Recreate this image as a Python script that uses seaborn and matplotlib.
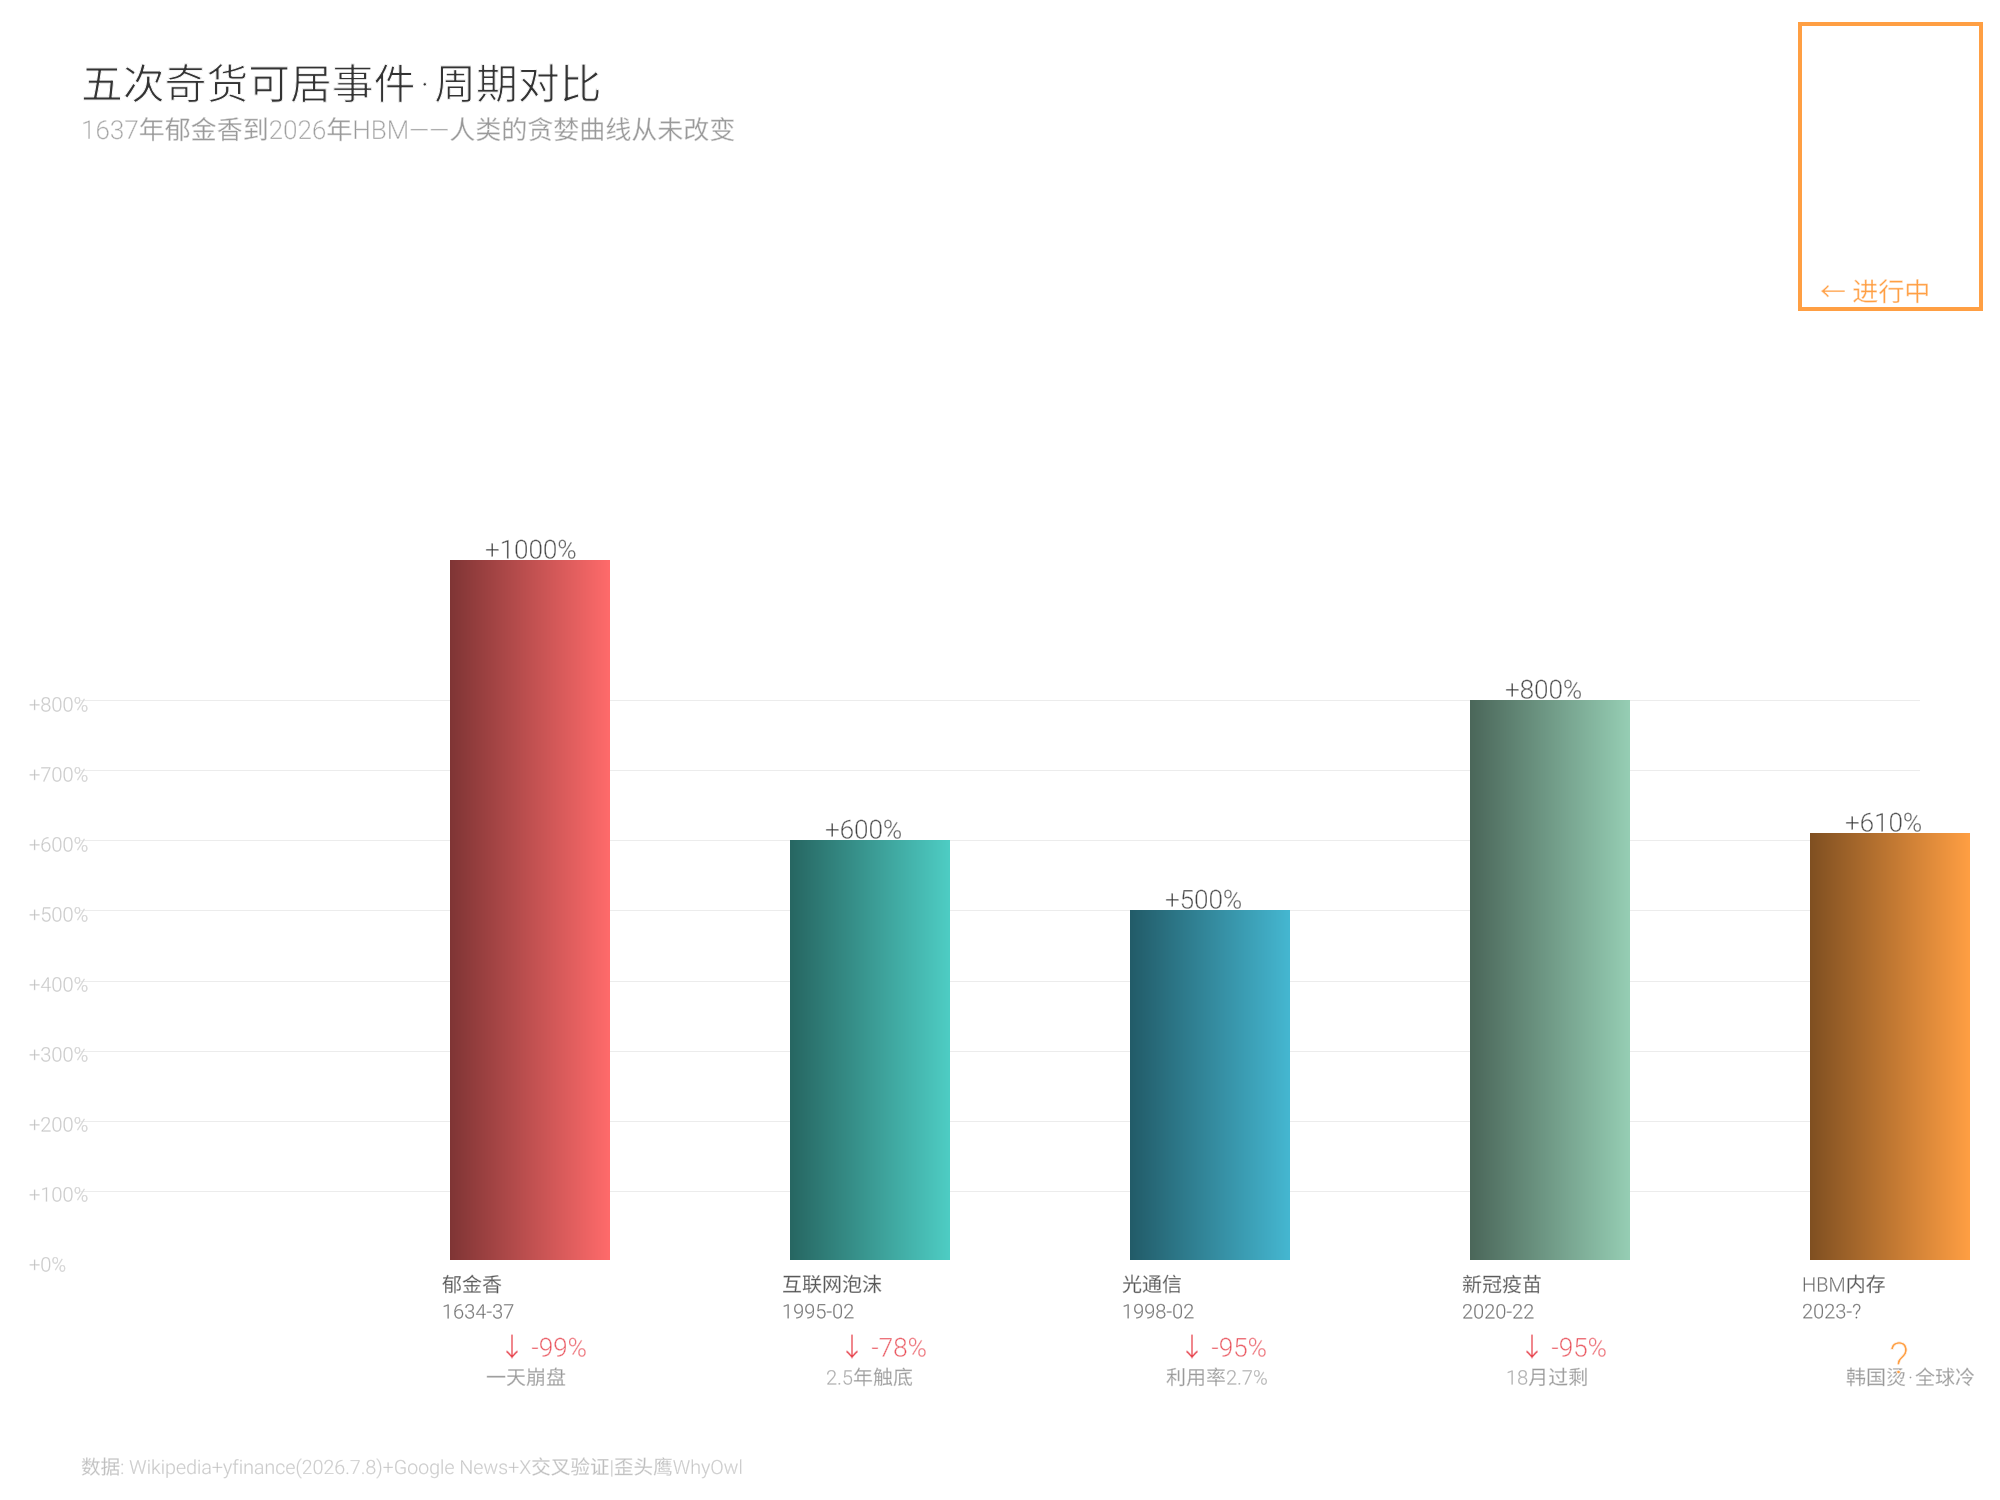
import numpy as np
import pandas as pd
import matplotlib
matplotlib.use("Agg")
import matplotlib.pyplot as plt
import matplotlib.patheffects as pe
import seaborn as sns
from matplotlib.colors import LinearSegmentedColormap
from matplotlib.patches import Rectangle
from matplotlib.transforms import ScaledTranslation

# datos
events = ["郁金香", "互联网泡沫", "光通信", "新冠疫苗", "HBM内存"]
years = ["1634-37", "1995-02", "1998-02", "2020-22", "2023-?"]
gains = [1000, 600, 500, 800, 610]
drops = ["↓ -99%", "↓ -78%", "↓ -95%", "↓ -95%", "?"]
notes = ["一天崩盘", "2.5年触底", "利用率2.7%", "18月过剩", "韩国烫\u200a·\u200a全球冷"]
colors = ["#FF6B6B", "#4ECDC4", "#45B7D1", "#96CEB4", "#FF9F43"]
y_ticks = [0, 100, 200, 300, 400, 500, 600, 700, 800]

sns.set_theme(style="white")
plt.rcParams["font.family"] = ["Roboto", "Noto Sans CJK SC", "DejaVu Sans"]
plt.rcParams["font.weight"] = 300

W, H = 2000, 1500
PT = 0.72  # px a puntos con dpi=100


def thin(size_px, k=0.018):
    # el CJK solo existe en Regular: se adelgaza con un trazo blanco encima
    return [pe.Normal(), pe.Stroke(linewidth=size_px * k * PT, foreground="white")]


fig = plt.figure(figsize=(W / 100, H / 100), dpi=100, facecolor="white")
ax = fig.add_axes([80 / W, (H - 1260.5) / H, 1840 / W, 700 / H])

df = pd.DataFrame({"event": events, "gain": gains})
sns.barplot(data=df, x="event", y="gain", width=160 / 340, color=colors[0], ax=ax)

ax.set_xlabel("")
ax.set_ylabel("")
sns.despine(ax=ax, left=True, bottom=True)

# barras con degradado (un poco hacia dentro: imshow redondea el recuadro hacia fuera)
inset_x, inset_y = 0.7 / 340, 0.9 / 0.7
for patch, c in zip(ax.patches, colors):
    x0, x1 = patch.get_x(), patch.get_x() + patch.get_width()
    top = patch.get_height()
    rgb = matplotlib.colors.to_rgb(c)
    cmap = LinearSegmentedColormap.from_list("g", [tuple(v * 0.5 for v in rgb), rgb])
    patch.set_facecolor("none")
    patch.set_edgecolor("none")
    ax.imshow(np.linspace(0, 1, 256).reshape(1, -1), extent=[x0, x1 - inset_x, 0, top - inset_y], cmap=cmap,
              aspect="auto", zorder=3, clip_on=False, interpolation="bilinear")
ax.set_xlim((80 - 530) / 340, (1920 - 530) / 340)
ax.set_ylim(0, 1000)

# rejilla y ejes
ax.set_axisbelow(True)
ax.yaxis.grid(True, color="#ECECEC", linewidth=1.0 * PT)
ax.xaxis.grid(False)
ax.set_yticks(y_ticks, labels=[f"+{v}%" for v in y_ticks])
ax.set_xticks(range(len(events)), labels=[f"{e}\n{y}" for e, y in zip(events, years)])
ax.tick_params(axis="y", length=0, pad=51 * PT, labelsize=20 * PT, labelcolor="#BDBDBD")
ax.tick_params(axis="x", length=0, pad=16 * PT, labelsize=20 * PT, labelcolor="#555555")
for label in ax.get_yticklabels():
    label.set_ha("left")
    label.set_va("baseline")
    label.set_path_effects(thin(20))
    label.set_transform(label.get_transform() + ScaledTranslation(0, -11 / 100, fig.dpi_scale_trans))
for label in ax.get_xticklabels():
    label.set_ha("left")
    label.set_linespacing(1.52)
    label.set_path_effects(thin(20))
    label.set_transform(label.get_transform() + ScaledTranslation(-88 / 100, 0, fig.dpi_scale_trans))

# valores sobre las barras
value_labels = ax.bar_label(ax.containers[0], labels=[f"+{v}%" for v in gains], padding=2 * PT,
                            fontsize=26 * PT, color="#333333", zorder=4)
for t in value_labels:
    t.set_ha("left")
    t.set_va("baseline")
    t.xyann = (-45 * PT, 2 * PT)
    t.set_clip_on(False)
    t.set_path_effects(thin(26))

# caidas y notas
for i, (d, n) in enumerate(zip(drops, notes)):
    ax.annotate(n, (i, 0), xytext=(-44 * PT, -124 * PT), textcoords="offset points",
                fontsize=20 * PT, color="#999999", ha="left", va="baseline", annotation_clip=False,
                path_effects=thin(20))
    if d == "?":
        ax.annotate(d, (i, 0), xytext=(-1 * PT, -113 * PT), textcoords="offset points",
                    fontsize=44 * PT, color="#FF9F43", ha="left", va="baseline", annotation_clip=False,
                    path_effects=thin(44))
    else:
        ax.annotate(d, (i, 0), xytext=(-31 * PT, -96 * PT), textcoords="offset points",
                    fontsize=26 * PT, color="#E8454F", ha="left", va="baseline", annotation_clip=False,
                    path_effects=thin(26))

# titulo y pie
fig.text(81 / W, 1 - 99 / H, "五次奇货可居事件\u200a·\u200a周期对比", fontsize=41.8 * PT, color="#333333",
         va="baseline", path_effects=thin(42, k=0.024))
fig.text(81 / W, 1 - 139 / H, "1637年郁金香到2026年HBM——人类的贪婪曲线从未改变", fontsize=26 * PT,
         color="#999999", va="baseline", path_effects=thin(26))
fig.text(81 / W, 1 - 1474 / H, "数据: Wikipedia+yfinance(2026.7.8)+Google News+X交叉验证|歪头鹰WhyOwl",
         fontsize=19.6 * PT, color="#BDBDBD", va="baseline", path_effects=thin(20))

# recuadro "en curso"
fig.add_artist(Rectangle((1800 / W, 1 - 309 / H), 181 / W, 285 / H, transform=fig.transFigure,
                         fill=False, edgecolor="#FF9F43", linewidth=4 * PT))
fig.text(1820 / W, 1 - 301 / H, "← 进行中", fontsize=26 * PT, color="#FF9F43", va="baseline",
         path_effects=thin(26))

fig.savefig("out.png", dpi=100, facecolor="white")
